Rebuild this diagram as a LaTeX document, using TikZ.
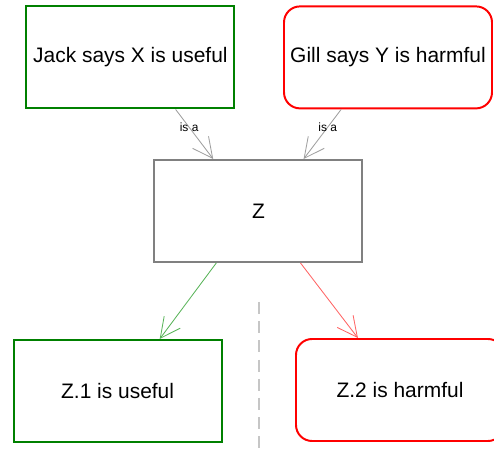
\documentclass[tikz,border=0pt]{standalone}
\usepackage{fontspec}
\setmainfont{Liberation Sans}
\usepackage{pgf, tikz}
\usetikzlibrary{arrows.meta}

\definecolor{goodline}{RGB}{0,128,0}
\definecolor{goodarrow}{RGB}{90,180,90}
\definecolor{badarrow}{RGB}{255,100,100}

\begin{document}
\begin{tikzpicture}[
            > = {Straight Barb[length=5mm,width=5mm]}, % open arrow head
            every node/.style = {font=\fontsize{14.9}{18}\selectfont},
            semithick % line style
        ]

        \useasboundingbox (0,0) rectangle (12.35,11.325);

        \tikzstyle{box}=[
            draw,
            line width = 1.4pt,
            minimum width = 5.2cm,
            minimum height = 2.55cm,
            inner sep = 0cm
        ]
        \tikzstyle{good}=[box, draw = goodline]
        \tikzstyle{bad}=[box, draw = red, rounded corners = 0.4cm]
        \tikzstyle{plain}=[box, draw = gray]
        \tikzstyle{isa}=[font = \fontsize{8.5}{10}\selectfont, text = black, inner sep = 0.5pt]

        \node[good] (jack) at (3.26,9.89) {Jack says X is useful};
        \node[bad] (gill) at (9.70,9.89) {Gill says Y is harmful};

        \node[plain] (z) at (6.46,6.05) {Z};

        \node[good] (z1) at (2.94,1.55) {Z.1 is useful};
        \node[bad] (z2) at (10.0,1.575) {Z.2 is harmful};

        \path (jack.-49) edge[->, gray!75] node[isa, pos=0.36] {is a} (z.131);
        \path (gill.-132) edge[->, gray!75] node[isa, pos=0.36] {is a} (z.49);

        \path (z.-129) edge[->, goodarrow] (z1.51);
        \path (z.-51) edge[->, badarrow] (z2.129);

        \draw[gray!45, line width = 1.4pt, dash pattern = on 0.3cm off 0.18cm] (6.475,3.775) -- (6.475,0);
    \end{tikzpicture}
\end{document}
